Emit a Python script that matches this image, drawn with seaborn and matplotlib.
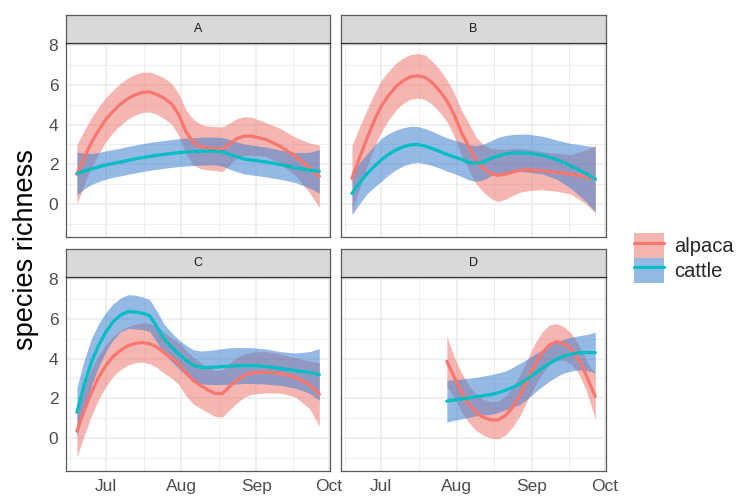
import numpy as np
import pandas as pd
import matplotlib
matplotlib.use("Agg")
import matplotlib.pyplot as plt
import matplotlib.dates as mdates
import matplotlib.ticker as mticker
from matplotlib.patches import Patch
from matplotlib.lines import Line2D
import seaborn as sns

sns.set_theme(style="white")
plt.rcParams['font.family'] = ['Liberation Sans', 'DejaVu Sans']

# days since 1 July
days_abc = [-12, -9, -6, -3, 0, 3, 6, 9, 12, 15, 18, 21, 24, 27, 30, 33, 36, 39, 42, 45,
            48, 51, 54, 57, 60, 66, 72, 78, 84, 88]
days_d = [27, 30, 33, 36, 39, 42, 45, 48, 51, 54, 57, 60, 63, 66, 69, 72, 75, 78, 81, 84, 86, 88]

# panel A (mean and half width of the band)
a_alpaca = [1.5, 2.35, 3.1, 3.72, 4.27, 4.68, 5.03, 5.3, 5.5, 5.62, 5.64, 5.51, 5.32, 5.05, 4.5,
            3.63, 3.12, 2.9, 2.82, 2.8, 2.76, 3.03, 3.3, 3.42, 3.42, 3.25, 2.9, 2.42, 1.82, 1.4]
a_alpaca_se = [1.5, 1.35, 1.25, 1.17, 1.1, 1.06, 1.05, 1.03, 1.02, 1.01, 1.0, 1.0, 1.02, 1.03, 1.05,
               1.1, 1.15, 1.12, 1.1, 1.1, 1.12, 1.05, 1.0, 0.97, 0.95, 0.85, 0.9, 0.95, 1.25, 1.58]
a_cattle = [1.54, 1.66, 1.77, 1.87, 1.97, 2.05, 2.12, 2.2, 2.27, 2.34, 2.4, 2.45, 2.5, 2.55, 2.59,
            2.62, 2.64, 2.66, 2.67, 2.67, 2.63, 2.5, 2.38, 2.27, 2.22, 2.12, 1.98, 1.84, 1.71, 1.65]
a_cattle_se = [1.08, 0.9, 0.78, 0.73, 0.71, 0.7, 0.7, 0.7, 0.7, 0.7, 0.7, 0.7, 0.7, 0.7, 0.7,
               0.7, 0.7, 0.7, 0.7, 0.7, 0.72, 0.74, 0.75, 0.75, 0.75, 0.75, 0.73, 0.75, 0.9, 1.1]

# panel B
b_alpaca = [1.3, 2.3, 3.25, 4.15, 4.92, 5.45, 5.9, 6.2, 6.4, 6.45, 6.38, 6.1, 5.7, 5.2, 4.5,
            3.6, 2.9, 2.2, 1.8, 1.55, 1.45, 1.5, 1.62, 1.7, 1.72, 1.68, 1.6, 1.5, 1.38, 1.25]
b_alpaca_se = [1.65, 1.55, 1.45, 1.35, 1.3, 1.23, 1.18, 1.14, 1.12, 1.12, 1.12, 1.09, 1.07, 1.05, 1.08,
               1.12, 1.17, 1.17, 1.2, 1.25, 1.33, 1.25, 1.18, 1.1, 1.05, 0.95, 0.95, 1.0, 1.35, 1.7]
b_cattle = [0.54, 1.04, 1.5, 1.88, 2.22, 2.5, 2.72, 2.88, 2.98, 3.0, 2.92, 2.8, 2.65, 2.5, 2.38,
            2.25, 2.1, 2.05, 2.12, 2.3, 2.42, 2.52, 2.57, 2.58, 2.57, 2.47, 2.25, 1.92, 1.55, 1.25]
b_cattle_se = [1.08, 1.04, 1.0, 1.04, 1.08, 1.04, 1.0, 0.96, 0.93, 0.9, 0.88, 0.86, 0.84, 0.84, 0.84,
               0.86, 0.88, 0.9, 0.9, 0.88, 0.93, 0.93, 0.93, 0.94, 0.95, 0.95, 0.98, 1.13, 1.4, 1.62]

# panel C
c_alpaca = [0.35, 1.38, 2.3, 3.07, 3.66, 4.12, 4.42, 4.64, 4.76, 4.81, 4.75, 4.58, 4.29, 4.02, 3.75,
            3.27, 2.9, 2.65, 2.43, 2.25, 2.24, 2.6, 2.92, 3.15, 3.27, 3.32, 3.25, 3.06, 2.68, 2.2]
c_alpaca_se = [1.3, 1.25, 1.18, 1.1, 1.05, 1.0, 0.97, 0.97, 0.97, 0.99, 1.01, 1.03, 1.03, 1.0, 1.05,
               1.15, 1.18, 1.15, 1.14, 1.16, 1.18, 1.17, 1.15, 1.1, 1.06, 1.04, 0.98, 0.98, 1.2, 1.6]
c_cattle = [1.3, 2.7, 3.83, 4.68, 5.35, 5.86, 6.19, 6.36, 6.34, 6.28, 6.16, 5.6, 4.97, 4.59, 4.22,
            3.92, 3.66, 3.56, 3.55, 3.57, 3.6, 3.62, 3.64, 3.65, 3.65, 3.6, 3.5, 3.4, 3.3, 3.2]
c_cattle_se = [1.25, 1.22, 1.18, 1.08, 0.98, 0.9, 0.85, 0.85, 0.85, 0.82, 0.8, 0.78, 0.75, 0.72, 0.72,
               0.75, 0.78, 0.82, 0.85, 0.88, 0.9, 0.92, 0.92, 0.9, 0.9, 0.88, 0.85, 0.88, 1.05, 1.3]

# panel D
d_alpaca = [3.86, 3.07, 2.31, 1.72, 1.3, 1.05, 0.92, 0.91, 1.13, 1.55, 2.14,
            2.9, 3.66, 4.25, 4.68, 4.84, 4.76, 4.51, 4.0, 3.24, 2.65, 2.1]
d_alpaca_se = [1.25, 1.02, 0.98, 0.93, 0.92, 0.9, 0.92, 0.95, 0.98, 1.0, 1.02,
               1.04, 1.06, 1.06, 1.0, 0.92, 0.85, 0.78, 0.72, 0.75, 0.9, 1.18]
d_cattle = [1.86, 1.92, 1.97, 2.03, 2.09, 2.14, 2.19, 2.28, 2.4, 2.55, 2.73,
            2.97, 3.24, 3.5, 3.75, 3.95, 4.12, 4.22, 4.29, 4.3, 4.3, 4.3]
d_cattle_se = [1.05, 1.02, 1.0, 0.98, 0.97, 0.98, 1.0, 0.99, 0.97, 1.0, 1.04,
               1.0, 0.96, 0.92, 0.89, 0.87, 0.85, 0.85, 0.85, 0.9, 0.95, 1.03]

sites = ["A", "B", "C", "D"]
animals = ["alpaca", "cattle"]
line_col = {"alpaca": "#F8766D", "cattle": "#00BFC4"}
fill_col = {"alpaca": "#EE7A72", "cattle": "#3F80D0"}
fill_alpha = 0.55

series = {
    ("A", "alpaca"): (days_abc, a_alpaca, a_alpaca_se),
    ("A", "cattle"): (days_abc, a_cattle, a_cattle_se),
    ("B", "alpaca"): (days_abc, b_alpaca, b_alpaca_se),
    ("B", "cattle"): (days_abc, b_cattle, b_cattle_se),
    ("C", "alpaca"): (days_abc, c_alpaca, c_alpaca_se),
    ("C", "cattle"): (days_abc, c_cattle, c_cattle_se),
    ("D", "alpaca"): (days_d, d_alpaca, d_alpaca_se),
    ("D", "cattle"): (days_d, d_cattle, d_cattle_se),
}

start = pd.Timestamp("2021-07-01")
rows = []
for (site, animal), (dd, mean, se) in series.items():
    for d, m, s in zip(dd, mean, se):
        rows.append({"site": site, "animal": animal,
                     "date": start + pd.Timedelta(days=d),
                     "richness": m, "lo": m - s, "hi": m + s})
df = pd.DataFrame(rows)

fig = plt.figure(figsize=(7.38, 5.01), dpi=100)
W, H = 738, 501

# panel boxes in pixels: left, right, top (strip top), bottom
boxes = {"A": (66, 330, 15, 237), "B": (341, 606, 15, 237),
         "C": (66, 330, 249, 471), "D": (341, 606, 249, 471)}
strip_h = 28

t0 = mdates.date2num(start)
month_starts = [pd.Timestamp(s) for s in ["2021-06-01", "2021-07-01", "2021-08-01", "2021-09-01", "2021-10-01"]]
minor = [(mdates.date2num(a) + mdates.date2num(b)) / 2 for a, b in zip(month_starts[:-1], month_starts[1:])]

edge = "#333333"
for site in sites:
    l, r, t, b = boxes[site]
    ax = fig.add_axes([l / W, 1 - b / H, (r - l) / W, (b - t - strip_h) / H])
    sax = fig.add_axes([l / W, 1 - (t + strip_h) / H, (r - l) / W, strip_h / H])

    # ribbon then line per group, like geom_smooth
    for animal in animals:
        sub = df[(df.site == site) & (df.animal == animal)]
        ax.fill_between(sub["date"], sub["lo"], sub["hi"], color=fill_col[animal],
                        alpha=fill_alpha, linewidth=0, zorder=2)
        sns.lineplot(data=sub, x="date", y="richness", color=line_col[animal],
                     linewidth=2.3, ax=ax, legend=False, zorder=3, sort=True)

    ax.set_xlim(t0 - 16.5, t0 + 92.4)
    ax.set_ylim(-1.65, 8.1)
    ax.xaxis.set_major_locator(mdates.MonthLocator())
    ax.xaxis.set_major_formatter(mdates.DateFormatter("%b"))
    ax.xaxis.set_minor_locator(mticker.FixedLocator(minor))
    ax.yaxis.set_major_locator(mticker.FixedLocator([0, 2, 4, 6, 8]))
    ax.yaxis.set_minor_locator(mticker.FixedLocator([-1, 1, 3, 5, 7]))
    ax.grid(which="major", color="#EBEBEB", linewidth=1.1)
    ax.grid(which="minor", color="#EBEBEB", linewidth=0.6)
    ax.set_axisbelow(True)
    ax.set_xlabel("")
    ax.set_ylabel("")
    for sp in ax.spines.values():
        sp.set_color("#5A5A5A")
        sp.set_linewidth(0.9)
    ax.tick_params(which="minor", length=0)
    ax.tick_params(which="major", direction="out", length=3.5, width=0.8,
                   color=edge, labelcolor="#4D4D4D", labelsize=12.5, pad=2)
    if site in ("A", "B"):
        ax.tick_params(axis="x", which="major", length=0, labelbottom=False)
    if site in ("B", "D"):
        ax.tick_params(axis="y", which="major", length=0, labelleft=False)

    sax.set_facecolor("#D9D9D9")
    sax.set_xticks([])
    sax.set_yticks([])
    for sp in sax.spines.values():
        sp.set_color("#5A5A5A")
        sp.set_linewidth(0.9)
    sax.spines["bottom"].set_color(edge)
    sax.text(0.5, 0.5, site, ha="center", va="center", fontsize=9,
             color="#1A1A1A", transform=sax.transAxes)

fig.text(26 / W, 1 - 250 / H, "species richness", rotation=90, ha="center",
         va="center", fontsize=19.5, color="black")

handles = [(Patch(facecolor=fill_col[a], alpha=fill_alpha, edgecolor="none"),
            Line2D([], [], color=line_col[a], linewidth=2.3)) for a in animals]
fig.legend(handles=handles, labels=animals, loc="center left",
           bbox_to_anchor=(628 / W, 1 - 258 / H), frameon=False, fontsize=14.5,
           handlelength=1.5, handleheight=1.5, labelspacing=0.0,
           handletextpad=0.5, borderaxespad=0, borderpad=0.3)

fig.savefig("out.png", dpi=100)
